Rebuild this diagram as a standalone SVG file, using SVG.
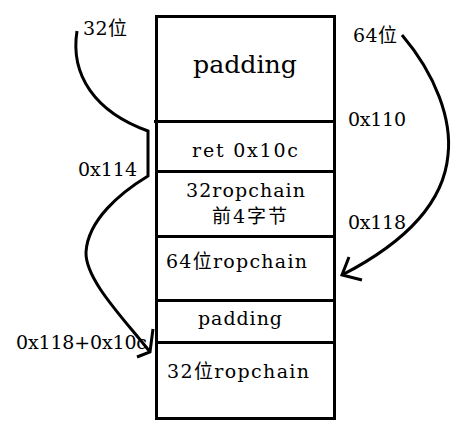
<svg xmlns="http://www.w3.org/2000/svg" width="467" height="438" viewBox="0 0 467 438">
<style>
.ln{fill:none;stroke:#000;stroke-width:3}
text{font-family:"DejaVu Serif","Noto Sans CJK SC",serif;fill:#000}
</style>
<rect width="467" height="438" fill="#fff"/>
<g id="stack">
<rect class="ln" x="156.5" y="16.5" width="178" height="402"/>
</g>
<g id="padding_top">
<text x="193" y="73" font-size="24" textLength="104" lengthAdjust="spacingAndGlyphs">padding</text>
</g>
<g id="ret">
<line class="ln" x1="154" y1="121.5" x2="335" y2="121.5"/>
<text x="192" y="157" font-size="19" textLength="106" lengthAdjust="spacing">ret 0x10c</text>
</g>
<g id="rop32_first4">
<line class="ln" x1="156" y1="171.5" x2="335" y2="171.5"/>
<text x="186" y="197" font-size="19" textLength="119" lengthAdjust="spacing">32ropchain</text>
<text x="212" y="223" font-size="19" textLength="75" lengthAdjust="spacing">前4字节</text>
</g>
<g id="rop64">
<line class="ln" x1="156" y1="236.5" x2="335" y2="236.5"/>
<text x="166" y="268" font-size="19" textLength="141" lengthAdjust="spacing">64位ropchain</text>
</g>
<g id="padding_mid">
<line class="ln" x1="156" y1="300.5" x2="335" y2="300.5"/>
<text x="198" y="325" font-size="19" textLength="84" lengthAdjust="spacing">padding</text>
</g>
<g id="rop32">
<line class="ln" x1="156" y1="342.5" x2="335" y2="342.5"/>
<text x="167" y="378" font-size="19" textLength="142" lengthAdjust="spacing">32位ropchain</text>
</g>
<g id="labels">
<text x="83" y="35" font-size="19" textLength="44" lengthAdjust="spacing">32位</text>
<text x="78" y="176" font-size="19" textLength="59" lengthAdjust="spacing">0x114</text>
<text x="16" y="349" font-size="19" textLength="131" lengthAdjust="spacing">0x118+0x10c</text>
<text x="353" y="42" font-size="19" textLength="44" lengthAdjust="spacing">64位</text>
<text x="348" y="126" font-size="19" textLength="58" lengthAdjust="spacing">0x110</text>
<text x="348" y="229" font-size="19" textLength="58" lengthAdjust="spacing">0x118</text>
</g>
<g id="connectors">
<path class="ln" d="M77,31 C70,75 95,112 148,131 L148,176 C120,193 88,220 86,252 C85,280 125,320 150,352"/>
<path class="ln" d="M153,329 L150,352 L137,357"/>
<path class="ln" d="M402,35 C436,75 452,120 448,155 C444,200 410,240 342,275"/>
<path class="ln" d="M349,257 L342,275 L362,280"/>
</g>
</svg>
